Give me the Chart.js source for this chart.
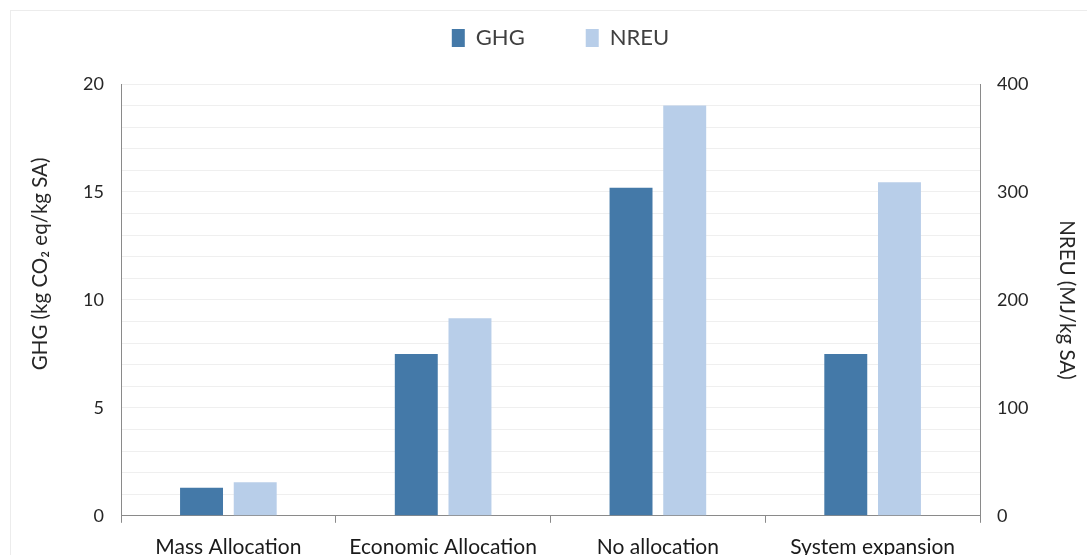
<!DOCTYPE html>
<html>
<head>
<meta charset="utf-8">
<script src="https://cdn.jsdelivr.net/npm/chart.js@4/dist/chart.umd.min.js"></script>
<style>
  html, body { margin: 0; padding: 0; background: #fff; overflow: hidden; }
  #wrap { position: relative; width: 1087px; height: 555px; overflow: hidden; }
  #frame { position: absolute; left: 10px; top: 10px; width: 1100px; height: 600px; border: 1px solid #ececec; box-sizing: border-box; }
  #holder { position: absolute; left: 0; top: -34px; width: 1087px; height: 606px; }
</style>
</head>
<body>
<div id="wrap">
  <div id="frame"></div>
  <div id="holder"><canvas id="c"></canvas></div>
</div>
<script>
const categories = ["Mass Allocation", "Economic Allocation", "No allocation", "System expansion"];
const ghgValues = [1.3, 7.5, 15.2, 7.5];
const nreuValues = [31, 183, 380, 309];
const ghgTicks = [0, 5, 10, 15, 20];
const nreuTicks = [0, 100, 200, 300, 400];

const FONT = "Lato, 'Open Sans', sans-serif";
const AXIS = "#8a8a8a";

const tweaks = {
  id: 'tweaks',
  beforeInit(chart) {
    const legend = chart.legend;
    const origFit = legend.fit;
    legend.fit = function () {
      origFit.call(legend);
      this.height += 25;
    };
    const origDraw = legend.draw;
    legend.draw = function () {
      const ctx = this.ctx;
      ctx.save();
      ctx.translate(7, 0);
      origDraw.call(legend);
      ctx.restore();
    };
  },
  afterUpdate(chart) {
    const s = chart.scales.y;
    if (s && !s._titlePatched) {
      const orig = Object.getPrototypeOf(s).drawTitle;
      s.drawTitle = function () {
        const ctx = this.ctx;
        ctx.save();
        ctx.translate(0, -36);
        orig.call(this);
        ctx.restore();
      };
      s._titlePatched = true;
    }
  }
};

new Chart(document.getElementById('c'), {
  type: 'bar',
  data: {
    labels: categories,
    datasets: [
      { label: 'GHG', data: ghgValues, yAxisID: 'y', backgroundColor: '#4479A8',
        categoryPercentage: 0.5, barPercentage: 0.8 },
      { label: 'NREU', data: nreuValues, yAxisID: 'y1', backgroundColor: '#B8CEE9',
        categoryPercentage: 0.5, barPercentage: 0.8 }
    ]
  },
  options: {
    responsive: true,
    maintainAspectRatio: false,
    animation: false,
    layout: { padding: { left: 20, right: 0, top: 0, bottom: 0 } },
    plugins: {
      legend: {
        position: 'top',
        labels: {
          boxWidth: 13, boxHeight: 18, padding: 61,
          color: '#404040',
          font: { family: FONT, size: 22 }
        }
      },
      tooltip: { enabled: false }
    },
    scales: {
      x: {
        grid: { display: true, offset: true, drawOnChartArea: false, drawTicks: true, tickLength: 7, color: AXIS },
        border: { display: true, color: AXIS, width: 1 },
        ticks: { color: '#1a1a1a', font: { family: FONT, size: 21 }, padding: 12, maxRotation: 0 }
      },
      y: {
        position: 'left',
        min: 0, max: 20,
        afterBuildTicks(scale) {
          const t = [];
          for (let v = 0; v <= 20; v++) t.push({ value: v });
          scale.ticks = t;
        },
        afterFit(scale) { scale.width = 101; },
        grid: { color: '#efefef', drawTicks: false, lineWidth: 1 },
        border: { display: true, color: AXIS, width: 1 },
        ticks: {
          autoSkip: false,
          padding: 17,
          color: '#262626',
          font: { family: FONT, size: 18 },
          callback: (v) => ghgTicks.includes(v) ? String(v) : ''
        },
        title: {
          display: true,
          text: 'GHG (kg CO\u2082 eq/kg SA)',
          color: '#262626',
          font: { family: FONT, size: 20.5 },
          padding: { top: 8, bottom: 0 }
        }
      },
      y1: {
        position: 'right',
        min: 0, max: 400,
        afterBuildTicks(scale) { scale.ticks = nreuTicks.map(v => ({ value: v })); },
        afterFit(scale) { scale.width = 107; },
        grid: { drawOnChartArea: false, drawTicks: false },
        border: { display: true, color: AXIS, width: 1 },
        ticks: {
          autoSkip: false,
          padding: 17,
          color: '#262626',
          font: { family: FONT, size: 18 }
        },
        title: {
          display: true,
          text: 'NREU (MJ/kg SA)',
          color: '#262626',
          font: { family: FONT, size: 20.5 },
          padding: { top: 8, bottom: 0 }
        }
      }
    }
  },
  plugins: [tweaks]
});
</script>
</body>
</html>
